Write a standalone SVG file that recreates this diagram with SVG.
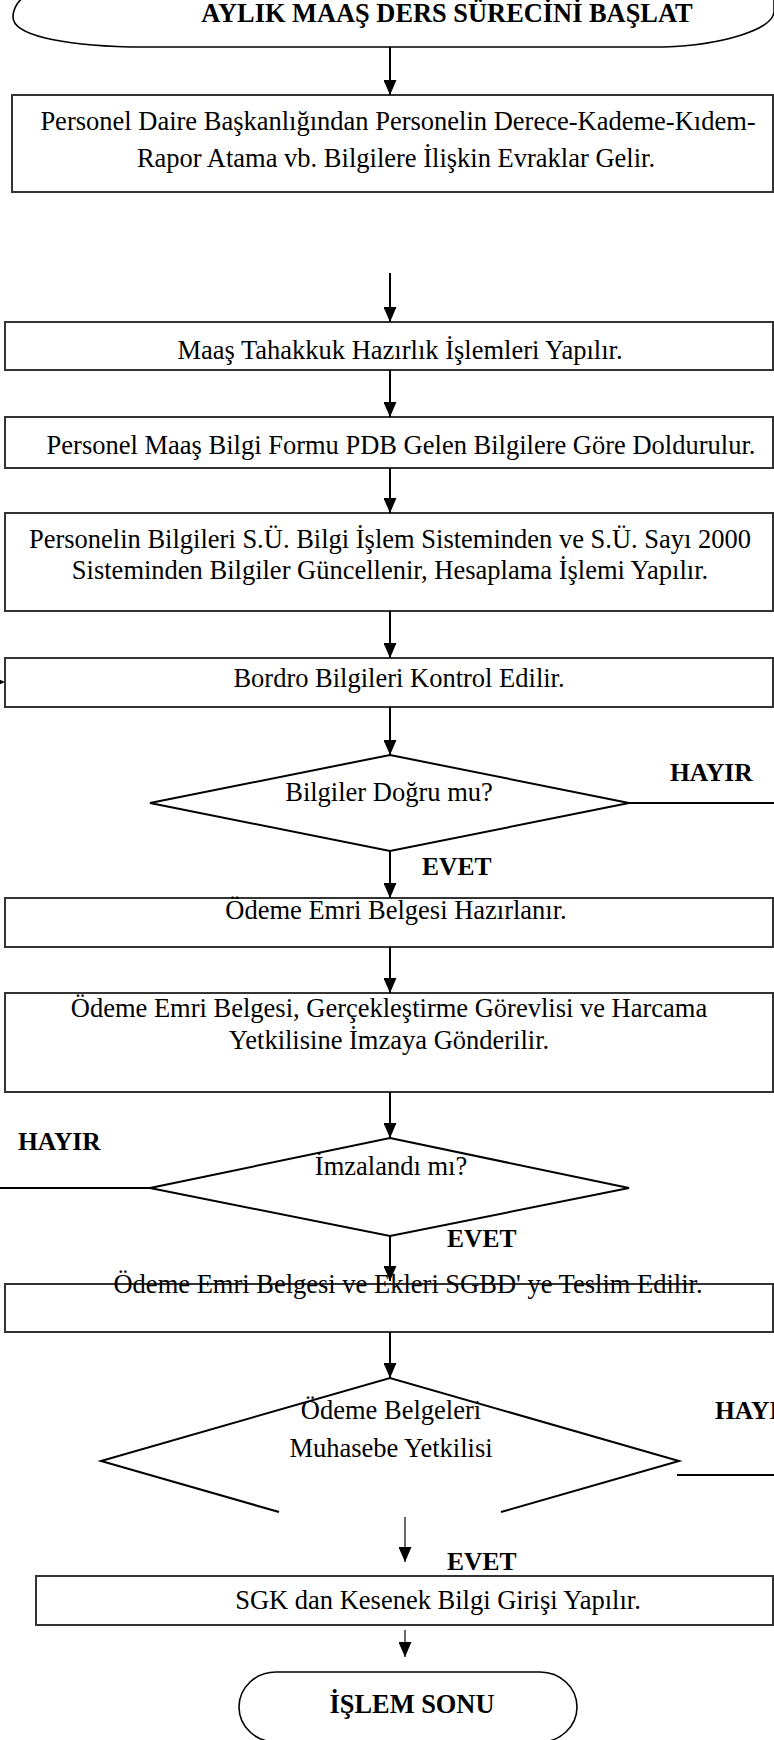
<svg xmlns="http://www.w3.org/2000/svg" width="774" height="1740" viewBox="0 0 774 1740">
<defs>
<style>
.t{font-family:"Liberation Serif","Times New Roman",serif;font-size:26.5px;fill:#000;text-anchor:middle}
.b{font-family:"Liberation Serif","Times New Roman",serif;font-size:25.5px;font-weight:bold;fill:#000}
.bt{font-family:"Liberation Serif","Times New Roman",serif;font-size:26.4px;font-weight:bold;fill:#000;text-anchor:middle}
.box{fill:#fff;stroke:#333;stroke-width:2}
.dia{fill:#fff;stroke:#000;stroke-width:2}
.term{fill:#fff;stroke:#000;stroke-width:1.6}
.c{stroke:#000;stroke-width:2;fill:none}
.ct{stroke:#000;stroke-width:1.2;fill:none}
</style>
<marker id="ah" viewBox="0 0 15 13" refX="15" refY="6.5" markerWidth="15" markerHeight="13" markerUnits="userSpaceOnUse" orient="auto">
<path d="M0,0 L15,6.5 L0,13 z" fill="#000"/>
</marker>
</defs>
<rect width="774" height="1740" fill="#fff"/>

<g id="start">
<path class="term" d="M45,-16 C22,-6 13,6 13,17 C13,35 60,45 130,47 L664,47 C722,45 772,30 774,12 L774,-20 Z"/>
<text class="bt" x="447" y="22">AYLIK MAAŞ DERS SÜRECİNİ BAŞLAT</text>
</g>

<g id="n1">
<rect class="box" x="12" y="95" width="761" height="97"/>
<text class="t" x="398" y="130">Personel Daire Başkanlığından Personelin Derece-Kademe-Kıdem-</text>
<text class="t" x="396" y="167">Rapor Atama vb. Bilgilere İlişkin Evraklar Gelir.</text>
</g>

<g id="n2">
<rect class="box" x="5" y="322" width="768" height="48"/>
<text class="t" x="400" y="359">Maaş Tahakkuk Hazırlık İşlemleri Yapılır.</text>
</g>

<g id="n3">
<rect class="box" x="5" y="417" width="768" height="51"/>
<text class="t" x="401" y="454">Personel Maaş Bilgi Formu PDB Gelen Bilgilere Göre Doldurulur.</text>
</g>

<g id="n4">
<rect class="box" x="5" y="513" width="768" height="98"/>
<text class="t" x="390" y="548">Personelin Bilgileri S.Ü. Bilgi İşlem Sisteminden ve S.Ü. Sayı 2000</text>
<text class="t" x="390" y="579">Sisteminden Bilgiler Güncellenir, Hesaplama İşlemi Yapılır.</text>
</g>

<g id="n5">
<rect class="box" x="5" y="658" width="768" height="49"/>
<text class="t" x="399" y="687">Bordro Bilgileri Kontrol Edilir.</text>
</g>

<g id="d1">
<polygon class="dia" points="390,755 629,803 390,851 150,803"/>
<text class="t" x="389" y="801">Bilgiler Doğru mu?</text>
</g>

<g id="n6">
<rect class="box" x="5" y="898" width="768" height="49"/>
<text class="t" x="396" y="919">Ödeme Emri Belgesi Hazırlanır.</text>
</g>

<g id="n7">
<rect class="box" x="5" y="993" width="768" height="99"/>
<text class="t" x="389" y="1017">Ödeme Emri Belgesi, Gerçekleştirme Görevlisi ve Harcama</text>
<text class="t" x="389" y="1049">Yetkilisine İmzaya Gönderilir.</text>
</g>

<g id="d2">
<polygon class="dia" points="390,1138 629,1188 390,1236 150,1188"/>
<text class="t" x="391" y="1175">İmzalandı mı?</text>
</g>

<g id="n8">
<rect class="box" x="5" y="1284" width="768" height="48"/>
<text class="t" x="408" y="1293">Ödeme Emri Belgesi ve Ekleri SGBD' ye Teslim Edilir.</text>
</g>

<g id="d3">
<polyline class="dia" points="279,1512 101,1461 390,1378 679,1461 501,1512"/>
<text class="t" x="391" y="1419">Ödeme Belgeleri</text>
<text class="t" x="391" y="1457">Muhasebe Yetkilisi</text>
</g>

<g id="n9">
<rect class="box" x="36" y="1576" width="737" height="49"/>
<text class="t" x="438" y="1609">SGK dan Kesenek Bilgi Girişi Yapılır.</text>
</g>

<g id="end">
<rect class="term" x="239" y="1672" width="338" height="70" rx="37" ry="35"/>
<text class="bt" x="412" y="1713">İŞLEM SONU</text>
</g>

<g id="connectors">
<line class="c" x1="390" y1="47" x2="390" y2="95" marker-end="url(#ah)"/>
<line class="c" x1="390" y1="273" x2="390" y2="322" marker-end="url(#ah)"/>
<line class="c" x1="390" y1="370" x2="390" y2="417" marker-end="url(#ah)"/>
<line class="c" x1="390" y1="468" x2="390" y2="513" marker-end="url(#ah)"/>
<line class="c" x1="390" y1="611" x2="390" y2="658" marker-end="url(#ah)"/>
<line class="c" x1="390" y1="707" x2="390" y2="755" marker-end="url(#ah)"/>
<line class="c" x1="390" y1="851" x2="390" y2="898" marker-end="url(#ah)"/>
<line class="c" x1="390" y1="947" x2="390" y2="993" marker-end="url(#ah)"/>
<line class="c" x1="390" y1="1092" x2="390" y2="1138" marker-end="url(#ah)"/>
<line class="c" x1="390" y1="1236" x2="390" y2="1281" marker-end="url(#ah)"/>
<line class="c" x1="390" y1="1332" x2="390" y2="1378" marker-end="url(#ah)"/>
<line class="ct" x1="405" y1="1517" x2="405" y2="1562" marker-end="url(#ah)"/>
<line class="ct" x1="405" y1="1630" x2="405" y2="1657" marker-end="url(#ah)"/>
<line class="c" x1="629" y1="803" x2="774" y2="803"/>
<line class="c" x1="150" y1="1188" x2="0" y2="1188"/>
<line class="c" x1="677" y1="1475" x2="774" y2="1475"/>
<polygon points="5,682 -8,676 -8,688" fill="#000"/>
<text class="b" x="670" y="781">HAYIR</text>
<text class="b" x="422" y="875">EVET</text>
<text class="b" x="18" y="1150">HAYIR</text>
<text class="b" x="447" y="1247">EVET</text>
<text class="b" x="715" y="1419">HAYIR</text>
<text class="b" x="447" y="1570">EVET</text>
</g>
</svg>
